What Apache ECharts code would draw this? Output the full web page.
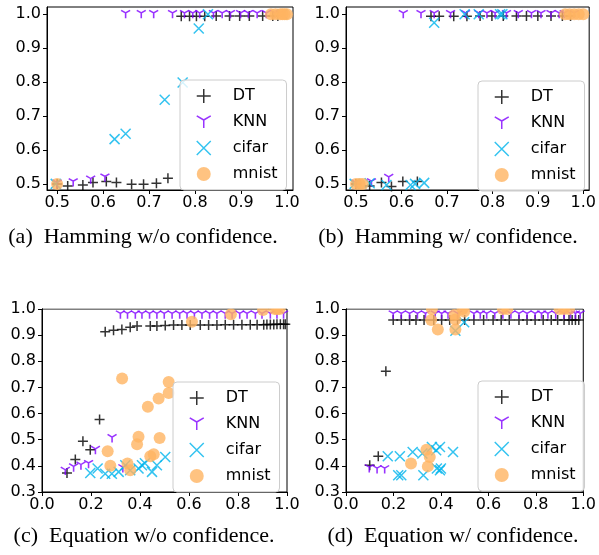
<!DOCTYPE html>
<html>
<head>
<meta charset="utf-8">
<script src="https://cdn.jsdelivr.net/npm/echarts@6/dist/echarts.min.js"></script>
<style>
  html, body { margin: 0; padding: 0; background: #fff; }
  #main { width: 599px; height: 555px; }
</style>
</head>
<body>
<div id="main"></div>
<script>
// tick labels
var hamTicksX = [0.5, 0.6, 0.7, 0.8, 0.9, 1.0];
var hamTicksY = [0.5, 0.6, 0.7, 0.8, 0.9, 1.0];
var eqTicksX = [0.0, 0.2, 0.4, 0.6, 0.8, 1.0];
var eqTicksY = [0.3, 0.4, 0.5, 0.6, 0.7, 0.8, 0.9, 1.0];

var captions = ['(a)  Hamming w/o confidence.', '(b)  Hamming w/ confidence.',
  '(c)  Equation w/o confidence.', '(d)  Equation w/ confidence.'];

// (a) Hamming w/o confidence
var aDT = [[0.5, 0.5], [0.523, 0.494], [0.556, 0.497], [0.578, 0.504], [0.607, 0.507], [0.629, 0.504],
  [0.662, 0.499], [0.688, 0.499], [0.716, 0.502], [0.741, 0.517],
  [0.770, 0.994], [0.788, 0.994], [0.803, 0.994], [0.821, 0.994], [0.846, 0.995], [0.875, 0.995],
  [0.897, 0.995], [0.918, 0.995], [0.947, 0.995], [0.969, 0.995], [0.98, 0.995]];
var aKNN = [[0.5, 0.5], [0.535, 0.504], [0.573, 0.512], [0.604, 0.518],
  [0.649, 1.0], [0.683, 1.0], [0.710, 1.0], [0.751, 1.0], [0.777, 1.0], [0.795, 1.0], [0.810, 1.0],
  [0.840, 1.0], [0.859, 1.0], [0.877, 1.0], [0.899, 1.0], [0.916, 1.0], [0.935, 1.0], [0.955, 1.0],
  [0.974, 1.0], [0.985, 1.0]];
var aCifar = [[0.497, 0.5], [0.625, 0.632], [0.649, 0.648], [0.734, 0.748], [0.773, 0.799],
  [0.808, 0.958], [0.828, 1.0], [0.99, 1.0]];
var aMnist = [[0.5, 0.5], [0.965, 1.0], [0.975, 1.0], [0.985, 1.0], [0.99, 1.0], [0.995, 1.0], [1.0, 1.0]];

// (b) Hamming w/ confidence
var bDT = [[0.5, 0.5], [0.530, 0.494], [0.556, 0.504], [0.578, 0.492], [0.603, 0.507], [0.635, 0.507],
  [0.665, 0.994], [0.683, 0.994], [0.715, 0.994], [0.744, 0.994], [0.773, 0.995], [0.799, 0.995],
  [0.824, 0.995], [0.853, 0.995], [0.875, 0.995], [0.9, 0.995], [0.929, 0.995], [0.954, 0.995], [0.972, 0.995]];
var bKNN = [[0.5, 0.5], [0.534, 0.504], [0.572, 0.517],
  [0.604, 1.0], [0.643, 1.0], [0.672, 1.0], [0.708, 1.0], [0.741, 1.0], [0.77, 1.0], [0.788, 1.0],
  [0.806, 1.0], [0.831, 1.0], [0.857, 1.0], [0.886, 1.0], [0.907, 1.0], [0.929, 1.0], [0.947, 1.0],
  [0.958, 1.0], [0.98, 1.0]];
var bCifar = [[0.497, 0.5], [0.53, 0.502], [0.567, 0.497], [0.62, 0.497], [0.63, 0.5], [0.65, 0.503],
  [0.672, 0.975], [0.739, 1.0], [0.77, 1.0], [0.817, 1.0], [0.822, 1.0]];
var bMnist = [[0.5, 0.5], [0.508, 0.5], [0.515, 0.5], [0.96, 1.0], [0.97, 1.0], [0.98, 1.0], [0.99, 1.0], [1.0, 1.0]];

// (c) Equation w/o confidence
var cDT = [[0.102, 0.373], [0.136, 0.424], [0.167, 0.494], [0.197, 0.462], [0.235, 0.577],
  [0.258, 0.913], [0.292, 0.919], [0.326, 0.922], [0.36, 0.93], [0.388, 0.935], [0.442, 0.935],
  [0.469, 0.935], [0.503, 0.937], [0.537, 0.939], [0.571, 0.939], [0.605, 0.939], [0.646, 0.939],
  [0.68, 0.939], [0.714, 0.939], [0.748, 0.94], [0.782, 0.94], [0.816, 0.94], [0.85, 0.94],
  [0.878, 0.94], [0.905, 0.94], [0.918, 0.941], [0.932, 0.941], [0.946, 0.941], [0.959, 0.942],
  [0.973, 0.942], [0.986, 0.942], [0.993, 0.942]];
var cKNN = [[0.095, 0.38], [0.129, 0.393], [0.159, 0.40], [0.19, 0.406], [0.218, 0.46], [0.286, 0.505], [0.33, 0.39],
  [0.32, 0.978], [0.349, 0.978], [0.381, 0.978], [0.408, 0.978], [0.439, 0.978], [0.469, 0.978],
  [0.499, 0.978], [0.531, 0.978], [0.562, 0.978], [0.592, 0.978], [0.622, 0.978], [0.653, 0.978],
  [0.684, 0.978], [0.714, 0.978], [0.748, 0.978], [0.776, 0.978], [0.807, 0.978], [0.837, 0.978],
  [0.871, 0.978], [0.898, 0.978], [0.932, 0.978], [0.959, 0.978], [0.986, 0.978]];
var cCifar = [[0.197, 0.373], [0.227, 0.39], [0.258, 0.37], [0.285, 0.37], [0.313, 0.377], [0.34, 0.402],
  [0.36, 0.383], [0.394, 0.39], [0.408, 0.402], [0.42, 0.41], [0.449, 0.377], [0.469, 0.402], [0.503, 0.434]];
var cMnist = [[0.327, 0.734], [0.517, 0.721], [0.517, 0.679], [0.476, 0.658], [0.432, 0.626],
  [0.394, 0.511], [0.388, 0.483], [0.48, 0.507], [0.268, 0.456], [0.279, 0.40], [0.349, 0.409],
  [0.36, 0.383], [0.442, 0.437], [0.456, 0.444], [0.612, 0.951], [0.771, 0.98], [0.902, 0.996],
  [0.95, 1.0], [0.96, 1.0], [0.97, 1.0]];

// (d) Equation w/ confidence
var dDT = [[0.1, 0.402], [0.136, 0.437], [0.168, 0.762],
  [0.199, 0.958], [0.233, 0.958], [0.268, 0.958], [0.295, 0.958], [0.329, 0.958], [0.37, 0.958],
  [0.403, 0.958], [0.437, 0.958], [0.47, 0.958], [0.50, 0.958], [0.539, 0.958], [0.58, 0.958],
  [0.62, 0.958], [0.654, 0.958], [0.688, 0.958], [0.729, 0.958], [0.763, 0.958], [0.797, 0.958],
  [0.831, 0.958], [0.865, 0.958], [0.892, 0.958], [0.919, 0.958], [0.94, 0.958], [0.953, 0.958],
  [0.967, 0.958], [0.981, 0.958]];
var dKNN = [[0.098, 0.39], [0.131, 0.386], [0.163, 0.386],
  [0.199, 0.978], [0.233, 0.978], [0.268, 0.978], [0.301, 0.978], [0.335, 0.978], [0.376, 0.978],
  [0.403, 0.978], [0.43, 0.978], [0.471, 0.978], [0.539, 0.978], [0.566, 0.978], [0.593, 0.978],
  [0.627, 0.978], [0.661, 0.978], [0.695, 0.978], [0.729, 0.978], [0.763, 0.978], [0.797, 0.978],
  [0.824, 0.978], [0.851, 0.978], [0.884, 0.978], [0.919, 0.978], [0.946, 0.978], [0.967, 0.978], [0.987, 0.978]];
var dCifar = [[0.176, 0.437], [0.227, 0.437], [0.281, 0.453], [0.322, 0.447], [0.362, 0.472],
  [0.396, 0.472], [0.38, 0.46], [0.451, 0.453], [0.22, 0.364], [0.233, 0.364], [0.326, 0.364],
  [0.383, 0.39], [0.396, 0.383], [0.40, 0.39], [0.461, 0.917], [0.498, 0.949]];
var dMnist = [[0.274, 0.409], [0.339, 0.462], [0.353, 0.434], [0.345, 0.398], [0.359, 0.958],
  [0.387, 0.922], [0.461, 0.922], [0.457, 0.977], [0.461, 0.96], [0.498, 0.99], [0.362, 1.0],
  [0.491, 1.0], [0.661, 1.0], [0.68, 1.0], [0.9, 1.0], [0.919, 1.0], [0.94, 1.0]];

// marker shapes (matplotlib '+', '1', 'x', 'o')
var PLUS = 'path://M5,0L5,10M0,5L10,5';
var TRI = 'path://M0,0L0,10M0,0L8.66,-5M0,0L-8.66,-5';
var XMARK = 'path://M0,0L10,10M0,10L10,0';

var FONT = 'DejaVu Sans';

var grids = [
  { left: 47, top: 7, width: 246, height: 183 },
  { left: 346, top: 7, width: 246, height: 183 },
  { left: 42, top: 309, width: 245, height: 183 },
  { left: 346, top: 309, width: 246, height: 183 }
];
grids.forEach(function (g) {
  g.show = true;
  g.borderColor = '#000';
  g.borderWidth = 1;
  g.backgroundColor = '#fff';
  g.containLabel = false;
});

function axis(gi, min, max, ticks, isX) {
  return {
    type: 'value',
    gridIndex: gi,
    min: min,
    max: max,
    axisLine: { show: true, onZero: false, lineStyle: { color: '#000', width: 1 } },
    axisTick: { show: true, length: 4, customValues: ticks, lineStyle: { color: '#000', width: 1 } },
    axisLabel: {
      customValues: ticks,
      formatter: function (v) { return v.toFixed(1); },
      color: '#000',
      fontSize: 16,
      fontFamily: FONT,
      margin: isX ? 5 : 6
    },
    splitLine: { show: false }
  };
}

function sc(name, data, gi) {
  var s = {
    type: 'scatter',
    name: name,
    xAxisIndex: gi,
    yAxisIndex: gi,
    data: data,
    animation: false,
    clip: true,
    emphasis: { disabled: true }
  };
  if (name == 'DT') {
    s.symbol = PLUS; s.symbolSize = 10;
    s.itemStyle = { color: '#000', borderColor: '#000', borderWidth: 1.5 };
  } else if (name == 'KNN') {
    s.symbol = TRI; s.symbolSize = [9, 8];
    s.itemStyle = { color: '#8000ff', borderColor: '#8000ff', borderWidth: 1.5 };
  } else if (name == 'cifar') {
    s.symbol = XMARK; s.symbolSize = 10;
    s.itemStyle = { color: '#00b4ec', borderColor: '#00b4ec', borderWidth: 1.5 };
  } else {
    s.symbol = 'circle'; s.symbolSize = 12;
    s.itemStyle = { color: '#ffb462', borderWidth: 0 };
  }
  return s;
}

function legend(left, top) {
  return {
    orient: 'vertical',
    left: left,
    top: top,
    itemWidth: 14,
    itemHeight: 14,
    itemGap: 10,
    padding: [8, 9, 8, 16],
    backgroundColor: 'rgba(255,255,255,0.8)',
    borderColor: '#cccccc',
    borderWidth: 1,
    borderRadius: 4,
    selectedMode: false,
    itemStyle: { borderWidth: 1.5 },
    textStyle: { fontSize: 16, fontFamily: FONT, color: '#000', padding: [0, 0, 0, 17] },
    data: [
      { name: 'DT', icon: PLUS },
      { name: 'KNN', icon: TRI },
      { name: 'cifar', icon: XMARK },
      { name: 'mnist', icon: 'circle' }
    ]
  };
}

var panels = [
  [aDT, aKNN, aCifar, aMnist],
  [bDT, bKNN, bCifar, bMnist],
  [cDT, cKNN, cCifar, cMnist],
  [dDT, dKNN, dCifar, dMnist]
];
var names = ['DT', 'KNN', 'cifar', 'mnist'];
var series = [];
for (var i = 0; i < panels.length; i++) {
  for (var k = 0; k < names.length; k++) {
    series.push(sc(names[k], panels[i][k], i));
  }
}

var capStyle = function (txt) {
  return { text: txt, font: '22px "Liberation Serif", "Times New Roman", serif', fill: '#000', align: 'center', verticalAlign: 'middle' };
};

// white strips above the bottom plots so markers at y=1.0 look clipped like matplotlib
function mask(x, w) {
  return { type: 'rect', z: 100, silent: true, shape: { x: x, y: 296, width: w, height: 12.5 }, style: { fill: '#fff' } };
}

var option = {
  animation: false,
  backgroundColor: '#fff',
  grid: grids,
  xAxis: [
    axis(0, 0.478, 1.013, hamTicksX, true),
    axis(1, 0.478, 1.013, hamTicksX, true),
    axis(2, 0, 1, eqTicksX, true),
    axis(3, 0, 1, eqTicksX, true)
  ],
  yAxis: [
    axis(0, 0.482, 1.0215, hamTicksY, false),
    axis(1, 0.482, 1.0215, hamTicksY, false),
    axis(2, 0.3, 1.0, eqTicksY, false),
    axis(3, 0.3, 1.0, eqTicksY, false)
  ],
  legend: [legend(180, 80), legend(478, 81), legend(173, 382), legend(478, 381)],
  series: series,
  graphic: [
    mask(43, 250), mask(347, 252),
    { type: 'text', x: 143, y: 237, style: capStyle(captions[0]) },
    { type: 'text', x: 448, y: 237, style: capStyle(captions[1]) },
    { type: 'text', x: 144, y: 536, style: capStyle(captions[2]) },
    { type: 'text', x: 453, y: 536, style: capStyle(captions[3]) }
  ]
};

var chart = echarts.init(document.getElementById('main'), null, { renderer: 'canvas' });
chart.setOption(option);
</script>
</body>
</html>
